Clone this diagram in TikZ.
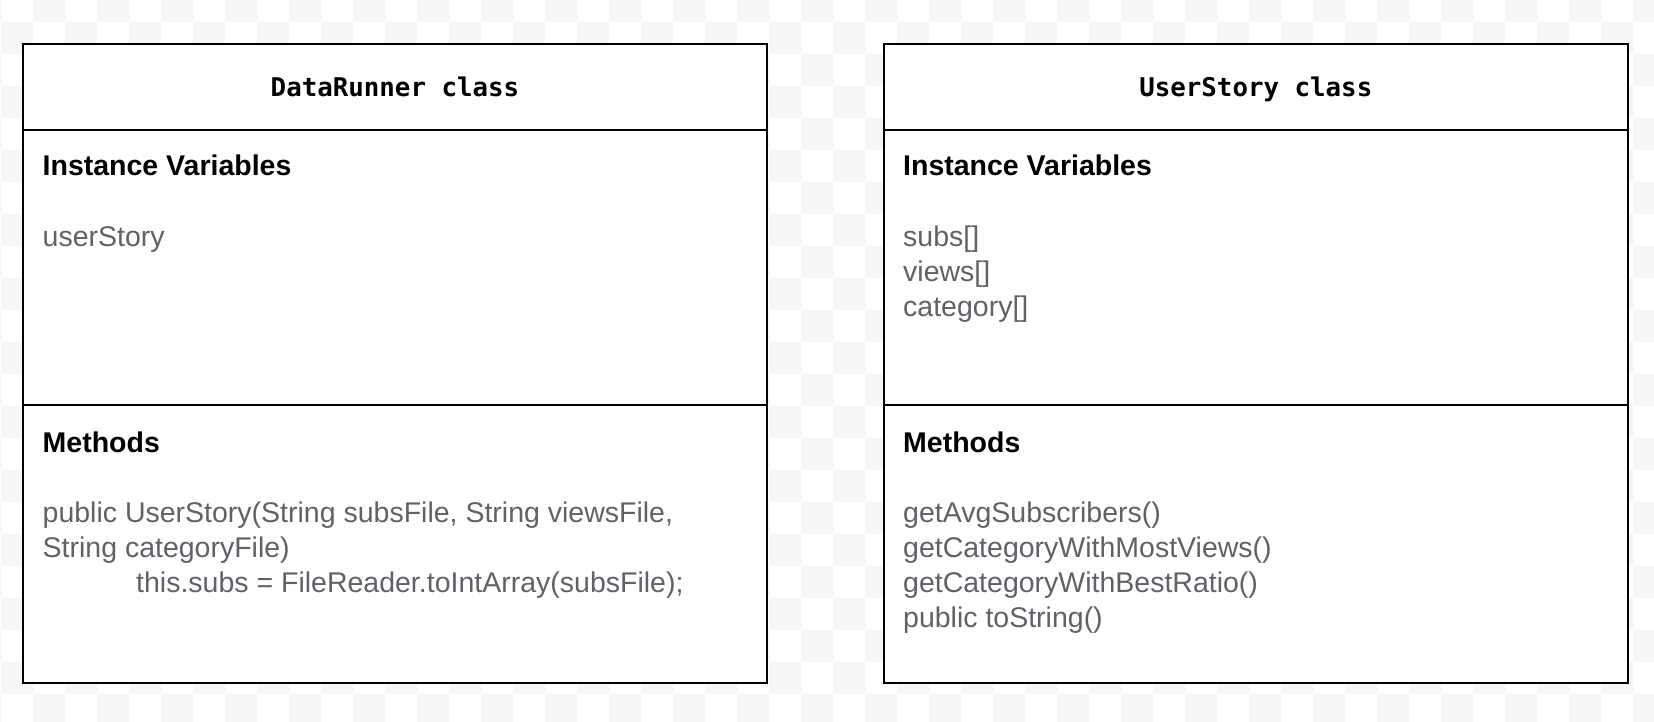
\documentclass[tikz,border=0pt]{standalone}
\usepackage{fontspec}
\setmainfont{Liberation Sans}
\newfontfamily\titlemono{DejaVu Sans Mono}
\definecolor{txtgray}{HTML}{5F6368}
\definecolor{chk}{RGB}{246,246,246}
\begin{document}
\begin{tikzpicture}[x=1pt,y=-1pt,
  box/.style={draw=black, line width=2pt, fill=white, rectangle, inner sep=0pt, outer sep=0pt, anchor=north west},
  sep/.style={draw=black, line width=2pt},
  ttl/.style={font=\titlemono\bfseries\fontsize{25.8}{30}\selectfont, anchor=base, inner sep=0pt, text=black},
  hd/.style={font=\bfseries\fontsize{28.5}{35}\selectfont, anchor=base west, inner sep=0pt, text=black},
  itm/.style={font=\fontsize{28.5}{35}\selectfont, anchor=base west, inner sep=0pt, text=txtgray}]
\useasboundingbox (0,0) rectangle (1654,722);
\fill[white] (0,0) rectangle (1654,722);
\begin{scope}
\clip (0,0) rectangle (1654,722);
\foreach \r in {0,...,22}{%
  \foreach \c in {-1,...,51}{%
    \pgfmathtruncatemacro\s{\r+\c}%
    \ifodd\s \fill[chk] ({1+32*\c},{-10+32*\r}) rectangle ++(32,32); \fi
  }}
\end{scope}

% DataRunner box
\node[box, minimum width=743.6pt, minimum height=638.3pt] (dr) at (23.2,44.3) {};
\draw[sep] (dr.west |- 0,129.7) -- (dr.east |- 0,129.7);
\draw[sep] (dr.west |- 0,405) -- (dr.east |- 0,405);
\node[ttl] (drt) at (395,97) {DataRunner class};
\node[hd] (drv) at (42.5,175.5) {Instance Variables};
\node[itm] (drv1) at (42.5,246) {userStory};
\node[hd] (drm) at (42.5,452.5) {Methods};
\node[itm] (drm1) at (42.5,522) {public UserStory(String subsFile, String viewsFile,};
\node[itm] (drm2) at (42.5,557) {String categoryFile)};
\node[itm] (drm3) at (136,592) {this.subs = FileReader.toIntArray(subsFile);};

% UserStory box
\node[box, minimum width=743.6pt, minimum height=638.3pt] (us) at (884,44.3) {};
\draw[sep] (us.west |- 0,129.7) -- (us.east |- 0,129.7);
\draw[sep] (us.west |- 0,405) -- (us.east |- 0,405);
\node[ttl] (ust) at (1255.8,97) {UserStory class};
\node[hd] (usv) at (903,175.5) {Instance Variables};
\node[itm] (usv1) at (903,246) {subs[]};
\node[itm] (usv2) at (903,281) {views[]};
\node[itm] (usv3) at (903,316) {category[]};
\node[hd] (usm) at (903,452.5) {Methods};
\node[itm] (usm1) at (903,522) {getAvgSubscribers()};
\node[itm] (usm2) at (903,557) {getCategoryWithMostViews()};
\node[itm] (usm3) at (903,592) {getCategoryWithBestRatio()};
\node[itm] (usm4) at (903,627) {public toString()};
\end{tikzpicture}
\end{document}
